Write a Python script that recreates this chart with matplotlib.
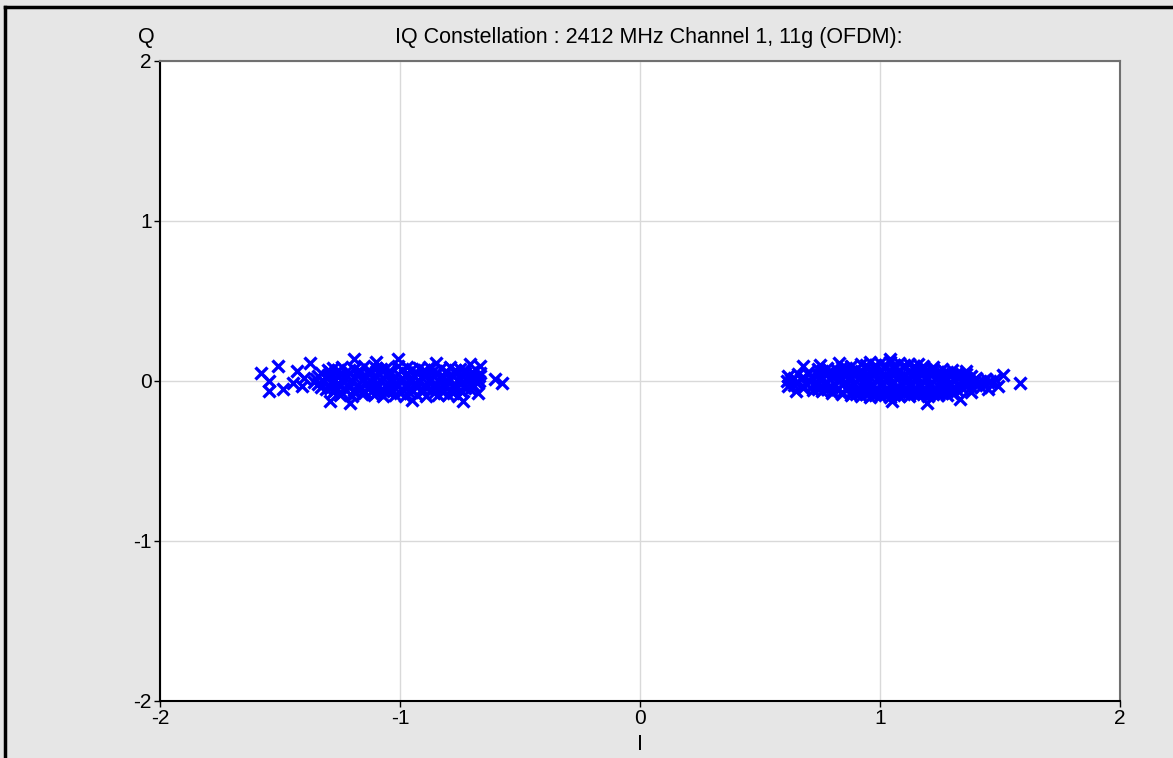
import numpy as np
import matplotlib
matplotlib.use("Agg")
import matplotlib.pyplot as plt
from matplotlib.lines import Line2D

plt.rcParams['font.family'] = ['Liberation Sans', 'DejaVu Sans']

title = "IQ Constellation : 2412 MHz Channel 1, 11g (OFDM):"
ticks = [-2, -1, 0, 1, 2]
tick_labels = ["-2", "-1", "0", "1", "2"]

# symbols around -1 (I, Q)
left_pts = [
    (-1.28, 0.082), (-1.24, 0.089), (-1.19, 0.078), (-1.15, 0.091), (-1.10, 0.084), (-1.06, 0.080),
    (-1.01, 0.093), (-0.97, 0.086), (-0.92, 0.079), (-0.88, 0.088), (-0.83, 0.083), (-0.79, 0.090),
    (-0.75, 0.076),
    (-1.30, 0.066), (-1.26, 0.071), (-1.22, 0.064), (-1.17, 0.070), (-1.13, 0.067), (-1.08, 0.073),
    (-1.04, 0.065), (-0.99, 0.069), (-0.95, 0.072), (-0.90, 0.066), (-0.86, 0.070), (-0.81, 0.064),
    (-0.77, 0.071), (-0.73, 0.068),
    (-1.33, 0.048), (-1.29, 0.055), (-1.25, 0.043), (-1.21, 0.052), (-1.17, 0.058), (-1.13, 0.046),
    (-1.09, 0.051), (-1.05, 0.056), (-1.01, 0.044), (-0.97, 0.053), (-0.93, 0.049), (-0.89, 0.057),
    (-0.85, 0.045), (-0.81, 0.054), (-0.77, 0.050), (-0.73, 0.047), (-0.70, 0.059),
    (-1.34, 0.031), (-1.30, 0.036), (-1.26, 0.029), (-1.22, 0.034), (-1.18, 0.038), (-1.14, 0.030),
    (-1.10, 0.033), (-1.06, 0.037), (-1.02, 0.028), (-0.98, 0.035), (-0.94, 0.032), (-0.90, 0.039),
    (-0.86, 0.030), (-0.82, 0.034), (-0.78, 0.031), (-0.74, 0.036), (-0.70, 0.029), (-0.67, 0.033),
    (-1.35, 0.012), (-1.31, 0.020), (-1.27, 0.008), (-1.23, 0.017), (-1.19, 0.022), (-1.15, 0.011),
    (-1.11, 0.015), (-1.07, 0.019), (-1.03, 0.009), (-0.99, 0.018), (-0.95, 0.014), (-0.91, 0.021),
    (-0.87, 0.010), (-0.83, 0.016), (-0.79, 0.013), (-0.75, 0.020), (-0.71, 0.011), (-0.68, 0.017),
    (-1.36, -0.004), (-1.32, 0.002), (-1.28, -0.006), (-1.24, 0.001), (-1.20, -0.003), (-1.16, 0.004),
    (-1.12, -0.005), (-1.08, 0.000), (-1.04, -0.002), (-1.00, 0.003), (-0.96, -0.006), (-0.92, 0.001),
    (-0.88, -0.003), (-0.84, 0.002), (-0.80, -0.004), (-0.76, 0.001), (-0.72, -0.002), (-0.67, 0.000),
    (-1.34, -0.018), (-1.30, -0.024), (-1.26, -0.015), (-1.22, -0.022), (-1.18, -0.027), (-1.14, -0.016),
    (-1.10, -0.021), (-1.06, -0.025), (-1.02, -0.014), (-0.98, -0.023), (-0.94, -0.019), (-0.90, -0.026),
    (-0.86, -0.017), (-0.82, -0.020), (-0.78, -0.024), (-0.74, -0.015), (-0.70, -0.022), (-0.68, -0.012),
    (-1.33, -0.036), (-1.29, -0.041), (-1.25, -0.034), (-1.21, -0.039), (-1.17, -0.043), (-1.13, -0.035),
    (-1.09, -0.038), (-1.05, -0.042), (-1.01, -0.033), (-0.97, -0.040), (-0.93, -0.037), (-0.89, -0.044),
    (-0.85, -0.035), (-0.81, -0.039), (-0.77, -0.036), (-0.73, -0.041), (-0.69, -0.034),
    (-1.31, -0.052), (-1.27, -0.058), (-1.23, -0.049), (-1.19, -0.056), (-1.15, -0.061), (-1.11, -0.050),
    (-1.07, -0.055), (-1.03, -0.060), (-0.99, -0.048), (-0.95, -0.057), (-0.91, -0.053), (-0.87, -0.059),
    (-0.83, -0.051), (-0.79, -0.054), (-0.75, -0.058), (-0.71, -0.049),
    (-1.28, -0.070), (-1.24, -0.075), (-1.19, -0.068), (-1.15, -0.074), (-1.10, -0.077), (-1.05, -0.069),
    (-1.00, -0.073), (-0.96, -0.076), (-0.91, -0.070), (-0.86, -0.074), (-0.82, -0.071), (-0.78, -0.075),
    (-0.74, -0.069),
    (-1.25, -0.088), (-1.20, -0.093), (-1.16, -0.084), (-1.11, -0.090), (-1.07, -0.095), (-1.02, -0.086),
    (-0.98, -0.091), (-0.93, -0.087), (-0.89, -0.094), (-0.84, -0.085), (-0.80, -0.089), (-0.76, -0.092),
    # stragglers
    (-1.58, 0.05), (-1.51, 0.094), (-1.545, 0.0), (-1.545, -0.062), (-1.486, -0.052), (-1.444, -0.01),
    (-1.43, 0.062), (-1.41, -0.03), (-1.375, 0.115), (-1.29, -0.125), (-1.19, 0.135), (-1.01, 0.135),
    (-1.21, -0.135), (-0.708, 0.105), (-0.667, 0.094), (-0.667, 0.05), (-0.604, 0.01), (-0.576, -0.01),
    (-0.674, -0.073), (-0.736, -0.125), (-1.10, 0.12), (-0.85, 0.115), (-0.95, -0.12), (-1.40, 0.02),
]

# symbols around +1
right_pts = [
    (0.92, 0.108), (0.96, 0.116), (1.00, 0.112), (1.04, 0.121), (1.08, 0.114), (1.12, 0.109), (1.16, 0.104),
    (0.84, 0.090), (0.88, 0.096), (0.94, 0.098), (0.98, 0.101), (1.02, 0.097), (1.06, 0.103), (1.10, 0.099),
    (1.14, 0.094), (1.18, 0.092), (1.22, 0.089),
    (0.74, 0.072), (0.78, 0.079), (0.82, 0.070), (0.86, 0.081), (0.90, 0.076), (0.94, 0.083), (0.98, 0.074),
    (1.02, 0.080), (1.06, 0.077), (1.10, 0.085), (1.14, 0.073), (1.18, 0.078), (1.22, 0.071), (1.26, 0.076),
    (1.30, 0.068),
    (0.70, 0.055), (0.76, 0.060), (0.80, 0.057), (0.84, 0.062), (0.88, 0.059), (0.92, 0.064), (0.96, 0.056),
    (1.00, 0.061), (1.04, 0.058), (1.08, 0.063), (1.12, 0.057), (1.16, 0.060), (1.20, 0.055), (1.24, 0.059),
    (1.28, 0.054), (1.32, 0.051), (1.36, 0.046),
    (0.66, 0.041), (0.70, 0.046), (0.74, 0.037), (0.78, 0.043), (0.82, 0.049), (0.86, 0.038), (0.90, 0.044),
    (0.94, 0.040), (0.98, 0.047), (1.02, 0.036), (1.06, 0.045), (1.10, 0.042), (1.14, 0.039), (1.18, 0.048),
    (1.22, 0.041), (1.26, 0.037), (1.30, 0.044), (1.34, 0.035), (1.38, 0.030),
    (0.64, 0.021), (0.68, 0.026), (0.72, 0.019), (0.76, 0.024), (0.80, 0.028), (0.84, 0.020), (0.88, 0.025),
    (0.92, 0.022), (0.96, 0.027), (1.00, 0.018), (1.04, 0.023), (1.08, 0.026), (1.12, 0.020), (1.16, 0.024),
    (1.20, 0.021), (1.24, 0.025), (1.28, 0.019), (1.32, 0.023), (1.36, 0.018), (1.40, 0.016), (1.44, 0.012),
    (0.63, 0.004), (0.67, 0.010), (0.71, 0.001), (0.75, 0.008), (0.79, 0.012), (0.83, 0.003), (0.87, 0.007),
    (0.91, 0.011), (0.95, 0.002), (0.99, 0.009), (1.03, 0.006), (1.07, 0.013), (1.11, 0.001), (1.15, 0.008),
    (1.19, 0.005), (1.23, 0.011), (1.27, 0.003), (1.31, 0.007), (1.35, 0.002), (1.39, 0.006), (1.43, -0.002),
    (0.65, -0.012), (0.69, -0.016), (0.73, -0.010), (0.77, -0.014), (0.81, -0.018), (0.85, -0.011),
    (0.89, -0.015), (0.93, -0.013), (0.97, -0.017), (1.01, -0.010), (1.05, -0.014), (1.09, -0.019),
    (1.13, -0.012), (1.17, -0.016), (1.21, -0.011), (1.25, -0.015), (1.29, -0.013), (1.33, -0.017),
    (1.37, -0.010), (1.41, -0.014), (1.45, -0.008),
    (0.64, -0.028), (0.68, -0.034), (0.72, -0.025), (0.76, -0.031), (0.80, -0.037), (0.84, -0.026),
    (0.88, -0.032), (0.92, -0.029), (0.96, -0.035), (1.00, -0.027), (1.04, -0.033), (1.08, -0.038),
    (1.12, -0.030), (1.16, -0.026), (1.20, -0.034), (1.24, -0.029), (1.28, -0.032), (1.32, -0.027),
    (1.36, -0.031), (1.40, -0.024),
    (0.68, -0.045), (0.74, -0.050), (0.78, -0.047), (0.82, -0.052), (0.86, -0.049), (0.90, -0.054),
    (0.94, -0.046), (0.98, -0.051), (1.02, -0.055), (1.06, -0.048), (1.10, -0.053), (1.14, -0.047),
    (1.18, -0.051), (1.22, -0.049), (1.26, -0.046), (1.30, -0.050), (1.34, -0.044), (1.38, -0.040),
    (0.72, -0.058), (0.76, -0.064), (0.80, -0.061), (0.84, -0.067), (0.88, -0.070), (0.92, -0.062),
    (0.96, -0.068), (1.00, -0.073), (1.04, -0.066), (1.08, -0.071), (1.12, -0.063), (1.16, -0.069),
    (1.20, -0.072), (1.24, -0.065), (1.28, -0.060), (1.32, -0.058),
    (0.80, -0.076), (0.84, -0.080), (0.90, -0.083), (0.94, -0.079), (0.98, -0.085), (1.02, -0.081),
    (1.06, -0.086), (1.10, -0.082), (1.14, -0.078), (1.18, -0.084), (1.22, -0.080), (1.26, -0.077),
    (1.30, -0.074),
    (0.88, -0.089), (0.92, -0.094), (0.96, -0.097), (1.00, -0.091), (1.04, -0.099), (1.08, -0.093),
    (1.12, -0.096), (1.16, -0.090), (1.20, -0.092), (1.24, -0.086),
    # stragglers
    (1.583, -0.01), (1.514, 0.04), (1.493, -0.03), (1.451, -0.05), (1.333, -0.115), (1.194, -0.135),
    (0.611, 0.0), (0.618, -0.03), (0.615, 0.03), (1.04, 0.14), (0.68, 0.094), (0.75, 0.10), (0.83, 0.11),
    (1.36, 0.062), (1.46, 0.0), (1.48, 0.015), (1.42, -0.04), (1.05, -0.125), (0.65, -0.06), (1.28, -0.09),
    (1.38, -0.07),
]

left = np.array(left_pts)
right = np.array(right_pts)

fig = plt.figure(figsize=(11.73, 7.58), dpi=100, facecolor='#e6e6e6')
ax = fig.add_axes([160/1173, 1 - 701/758, 960/1173, 640/758])
ax.set_facecolor('white')

for pts in (left, right):
    ax.plot(pts[:, 0], pts[:, 1], linestyle='none', marker='x', color='#0000ff',
            markersize=9, markeredgewidth=2.4, zorder=3)

ax.set_xlim(-2, 2)
ax.set_ylim(-2, 2)
ax.set_xticks(ticks)
ax.set_xticklabels(tick_labels)
ax.set_yticks(ticks)
ax.set_yticklabels(tick_labels)
ax.grid(True, color='#d9d9d9', linewidth=1)
ax.tick_params(direction='out', length=4, width=1, labelsize=15, pad=2, colors='black')

ax.spines['left'].set_color('black')
ax.spines['bottom'].set_color('black')
ax.spines['top'].set_color('#707070')
ax.spines['right'].set_color('#707070')
for s in ax.spines.values():
    s.set_linewidth(1.5)

fig.text(649/1173, 1 - 38/758, title, ha='center', va='center', fontsize=15.5)
fig.text(146/1173, 1 - 38/758, "Q", ha='center', va='center', fontsize=15.5)
fig.text(640/1173, 1 - 744/758, "I", ha='center', va='center', fontsize=15.5)

# outer frame (top and left edges only are visible)
fig.add_artist(Line2D([5/1173, 1], [1 - 7/758, 1 - 7/758], color='black', linewidth=2.5))
fig.add_artist(Line2D([5/1173, 5/1173], [0, 1 - 7/758], color='black', linewidth=2.5))

fig.savefig('out.png', dpi=100, facecolor=fig.get_facecolor())
